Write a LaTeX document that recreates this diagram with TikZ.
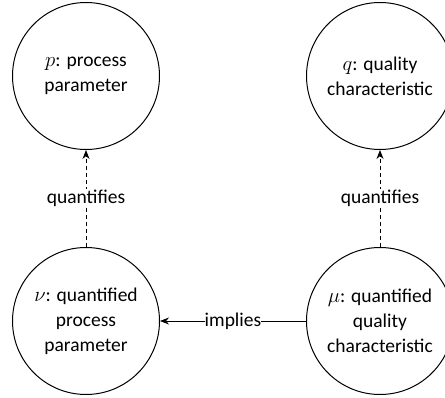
\documentclass[tikz,border=0pt]{standalone}
\usepackage{fontspec}
\setmainfont{Carlito}
\usetikzlibrary{arrows.meta}
\begin{document}
\begin{tikzpicture}[x=1pt,y=-1pt,
  concept/.style={draw,circle,line width=1pt,minimum size=147pt,inner sep=0pt,align=center,
    font=\fontsize{19.5}{25}\selectfont},
  lbl/.style={fill=white,inner sep=1pt,font=\fontsize{19.5}{25}\selectfont},
  link/.style={line width=0.9pt,-{Stealth[length=9pt,width=7pt]}},
  dlink/.style={link,dash pattern=on 4pt off 3pt}]
\useasboundingbox (0,0) rectangle (445,398);
\node[concept] (p) at (86,76) {$p$: process\\parameter};
\node[concept] (q) at (380,76) {$q$: quality\\characteristic};
\node[concept] (nu) at (86,321) {$\nu$: quantified\\process\\parameter};
\node[concept] (mu) at (380,321) {$\mu$: quantified\\quality\\characteristic};
\draw[dlink] (nu) -- node[lbl] {quantifies} (p);
\draw[dlink] (mu) -- node[lbl] {quantifies} (q);
\draw[link] (mu) -- node[lbl,inner sep=0pt] {implies} (nu);
\end{tikzpicture}
\end{document}
